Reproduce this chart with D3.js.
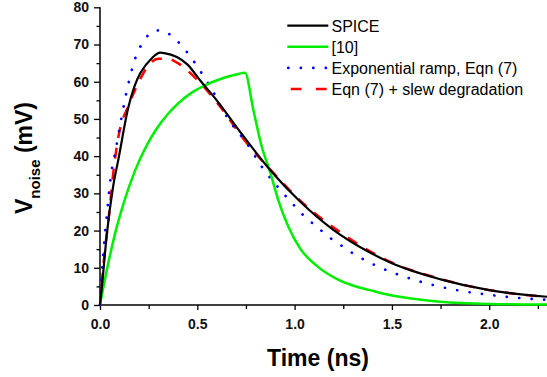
<!DOCTYPE html>
<html>
<head>
<meta charset="utf-8">
<script src="https://cdn.jsdelivr.net/npm/d3@7"></script>
<style>
  body { margin: 0; background: #fff; }
  text { font-family: Arial, "Liberation Sans", sans-serif; }
</style>
</head>
<body>
<div id="chart"></div>
<script>
// values
const spiceT = [0, 0.01, 0.035, 0.068, 0.094, 0.146, 0.27, 0.31, 0.33, 0.45, 0.514, 0.6, 0.719, 0.874, 1.028, 1.199, 1.387, 1.5, 1.75, 2.0, 2.3];
const spiceV = [0, 5, 19, 32, 39, 53.2, 66.5, 67.8, 67.7, 64.6, 60.4, 55, 46.6, 36.3, 27.8, 20.2, 14.1, 11.2, 6.9, 4.0, 2.2];

const ref10T = [0, 0.04, 0.077, 0.12, 0.18, 0.24, 0.29, 0.35, 0.402, 0.47, 0.531, 0.634, 0.69, 0.745, 0.788, 0.831, 0.874, 0.916, 0.968, 1.028, 1.114, 1.216, 1.319, 1.387, 1.46, 1.54, 1.65, 1.747, 2.0, 2.3];
const ref10V = [0, 10.6, 19.1, 27.1, 36.1, 42.9, 47.3, 51.4, 54.2, 57.0, 58.8, 61.0, 61.8, 62.4, 52.4, 42.6, 35.8, 28.2, 21.0, 15.2, 10.5, 7.0, 4.9, 4.0, 3.0, 2.2, 1.4, 0.9, 0.3, 0.1];

const expT = [0, 0.017, 0.034, 0.06, 0.077, 0.111, 0.151, 0.188, 0.223, 0.274, 0.31, 0.343, 0.402, 0.457, 0.52, 0.582, 0.617, 0.7, 0.745, 0.788, 0.831, 0.934, 0.99, 1.053, 1.117, 1.178, 1.242, 1.305, 1.367, 1.43, 1.619, 1.812, 2.004, 2.26, 2.3];
const expV = [0, 13.9, 23.7, 36.2, 40.7, 50.5, 60.6, 67.3, 70.7, 73.6, 73.8, 73.2, 70.7, 67.3, 62.5, 57.3, 53.7, 47, 44.2, 40.7, 37.2, 30.5, 27.2, 23.7, 20.9, 18.2, 15.9, 13.7, 11.9, 10.3, 6.7, 4.2, 2.7, 1.5, 1.4];

const slewT = [0, 0.02, 0.05, 0.068, 0.094, 0.15, 0.2, 0.25, 0.3, 0.35, 0.4, 0.5, 0.6, 0.75, 0.9, 1.0, 1.25, 1.5, 1.75, 2.0, 2.3];
const slewV = [0, 12, 26, 35.4, 45, 54, 60, 64.5, 66.2, 66.2, 65, 60.5, 54.5, 43.8, 35, 29.5, 19, 11.4, 7, 4, 2.2];

const xTicks = [0, 0.5, 1.0, 1.5, 2.0];
const yTicks = [0, 10, 20, 30, 40, 50, 60, 70, 80];

const series = [
  {name: "Eqn (7) + slew degradation", t: slewT, v: slewV, color: "#ff0000", width: 2.5, dash: "11,10", cap: "butt"},
  {name: "Exponential ramp, Eqn (7)", t: expT, v: expV, color: "#0000ff", width: 2.7, dash: "0.1,12.4", cap: "round"},
  {name: "[10]", t: ref10T, v: ref10V, color: "#00ee00", width: 2.5, dash: null, cap: "butt"},
  {name: "SPICE", t: spiceT, v: spiceV, color: "#000000", width: 2.2, dash: null, cap: "butt"}
];
const legendOrder = ["SPICE", "[10]", "Exponential ramp, Eqn (7)", "Eqn (7) + slew degradation"];

const W = 547, H = 377;
const svg = d3.select("#chart").append("svg")
  .attr("width", W).attr("height", H);

const x = d3.scaleLinear().domain([0, 2.3]).range([100, 547.6]);
const y = d3.scaleLinear().domain([0, 80]).range([305, 7.3]);

// axes
const xAxis = svg.append("g").attr("transform", "translate(0," + y(0) + ")")
  .call(d3.axisBottom(x).tickValues(xTicks).tickFormat(d3.format(".1f")).tickSize(5).tickPadding(9));
svg.append("g").attr("transform", "translate(0," + y(0) + ")")
  .call(d3.axisBottom(x).tickValues(d3.range(0.25, 2.3, 0.5)).tickFormat("").tickSize(4))
  .select(".domain").remove();

const yAxis = svg.append("g").attr("transform", "translate(" + x(0) + ",0)")
  .call(d3.axisLeft(y).tickValues(yTicks).tickSize(6).tickPadding(5));
svg.append("g").attr("transform", "translate(" + x(0) + ",0)")
  .call(d3.axisLeft(y).tickValues(d3.range(5, 80, 10)).tickFormat("").tickSize(3.5))
  .select(".domain").remove();

svg.selectAll(".domain").attr("stroke-width", 1.5);
xAxis.select(".domain").attr("d", "M" + x(0) + ",0H" + W);
yAxis.select(".domain").attr("d", "M0," + y(0) + "V" + y(80));
svg.selectAll(".tick line").attr("stroke-width", 1.3);
svg.selectAll(".tick text")
  .style("font-size", "14px").style("font-weight", "bold").attr("fill", "#111");

// curves
const line = d3.line().curve(d3.curveMonotoneX);
series.forEach(function(s) {
  const pts = s.t.map(function(t, i) { return [x(t), y(s.v[i])]; });
  svg.append("path")
    .attr("d", line(pts))
    .attr("fill", "none")
    .attr("stroke", s.color)
    .attr("stroke-width", s.width)
    .attr("stroke-dasharray", s.dash)
    .attr("stroke-linecap", s.cap)
    .attr("stroke-linejoin", "round");
});

// legend
const leg = svg.append("g");
legendOrder.forEach(function(name, i) {
  const s = series.find(function(d) { return d.name === name; });
  const ly = 25.7 + i * 21.1;
  leg.append("line")
    .attr("x1", s.dash && s.cap === "round" ? 288.3 : 287.3).attr("x2", 328.3)
    .attr("y1", ly).attr("y2", ly)
    .attr("stroke", s.color)
    .attr("stroke-width", s.width)
    .attr("stroke-dasharray", s.name === "Eqn (7) + slew degradation" ? "0,3.5,10.7,11" : s.dash)
    .attr("stroke-linecap", s.cap);
  leg.append("text")
    .attr("x", 331.5).attr("y", ly + 5.9)
    .style("font-size", "16px")
    .text(name);
});

// axis titles
svg.append("text")
  .attr("x", 318).attr("y", 366)
  .attr("text-anchor", "middle")
  .style("font-size", "23px").style("font-weight", "bold")
  .text("Time (ns)");

const yl = svg.append("text")
  .attr("transform", "translate(32,158) rotate(-90)")
  .attr("text-anchor", "middle")
  .style("font-size", "23px").style("font-weight", "bold");
yl.append("tspan").text("V");
yl.append("tspan").attr("dy", 8).style("font-size", "15px").text("noise");
yl.append("tspan").attr("dy", -8).text(" (mV)");
</script>
</body>
</html>
